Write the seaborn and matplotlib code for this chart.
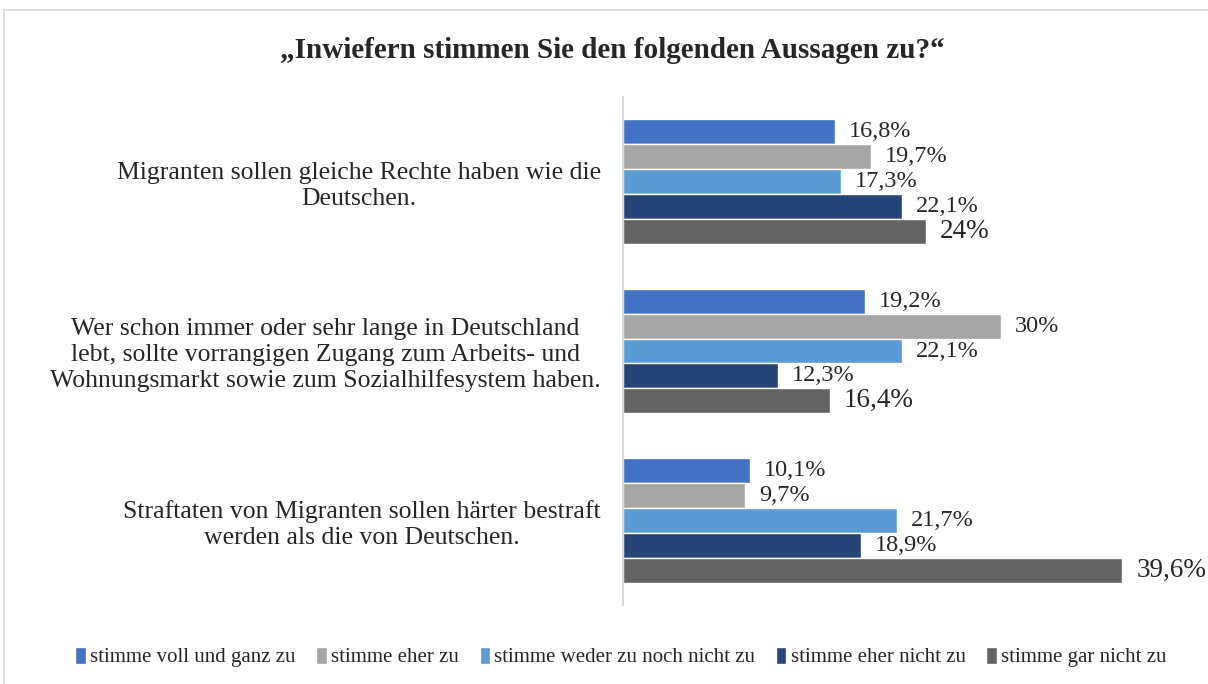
import numpy as np
import pandas as pd
import seaborn as sns
import matplotlib.pyplot as plt
from matplotlib.patches import Rectangle

statements = [
    "Migranten sollen gleiche Rechte haben wie die\nDeutschen.",
    "Wer schon immer oder sehr lange in Deutschland\nlebt, sollte vorrangigen Zugang zum Arbeits- und\nWohnungsmarkt sowie zum Sozialhilfesystem haben.",
    "Straftaten von Migranten sollen härter bestraft\nwerden als die von Deutschen.",
]
answers = ["stimme voll und ganz zu", "stimme eher zu", "stimme weder zu noch nicht zu",
           "stimme eher nicht zu", "stimme gar nicht zu"]
voll_und_ganz = [16.8, 19.2, 10.1]
eher_zu = [19.7, 30.0, 9.7]
weder_noch = [17.3, 22.1, 21.7]
eher_nicht = [22.1, 12.3, 18.9]
gar_nicht = [24.0, 16.4, 39.6]
colors = ["#4472C4", "#A5A5A5", "#5B9BD5", "#264478", "#636363"]

series = [voll_und_ganz, eher_zu, weder_noch, eher_nicht, gar_nicht]
rows = []
for ans, vals in zip(answers, series):
    for st, v in zip(statements, vals):
        rows.append({"Aussage": st, "Antwort": ans, "Prozent": v})
df = pd.DataFrame(rows)

sns.set_style("white")
plt.rcParams['font.family'] = ['Liberation Serif', 'DejaVu Serif']

fig = plt.figure(figsize=(12.08, 6.84), dpi=100)
ax = fig.add_axes([623 / 1208, 1 - 605 / 684, 580 / 1208, 508 / 684])

sns.barplot(data=df, y="Aussage", x="Prozent", hue="Antwort", order=statements,
            hue_order=answers, palette=colors, width=0.735, orient="h", ax=ax,
            saturation=1, legend=True)

for i, cont in enumerate(ax.containers):
    labels = [f"{v:g}".replace(".", ",") + "%" for v in series[i]]
    ax.bar_label(cont, labels=labels, padding=10, fontsize=19.5 if i == 4 else 17.5)

ax.set_xlim(0, 46)
ax.set_xlabel("")
ax.set_ylabel("")
ax.set_xticks([])
ax.tick_params(axis="y", length=0, pad=16, labelsize=18.5)
for lab in ax.get_yticklabels():
    lab.set_multialignment("center")
for s in ["top", "right", "bottom"]:
    ax.spines[s].set_visible(False)
ax.spines["left"].set_color("#D9D9D9")
ax.spines["left"].set_linewidth(1.5)

h, l = ax.get_legend_handles_labels()
ax.legend_.remove()
fig.legend(h, l, loc="center", bbox_to_anchor=(621 / 1208, 1 - 657 / 684), ncol=5,
           frameon=False, fontsize=15, handlelength=0.5, handleheight=0.9,
           handletextpad=0.2, columnspacing=1.0)

fig.text(612 / 1208, 1 - 51 / 684, "„Inwiefern stimmen Sie den folgenden Aussagen zu?“",
         ha="center", va="center", fontsize=21, fontweight="bold")

fig.patches.append(Rectangle((4 / 1208, -0.05), 1.1, 1 - 10 / 684 + 0.05,
                             transform=fig.transFigure, fill=False,
                             edgecolor="#D9D9D9", linewidth=1.2))

fig.savefig("out.png", dpi=100)
